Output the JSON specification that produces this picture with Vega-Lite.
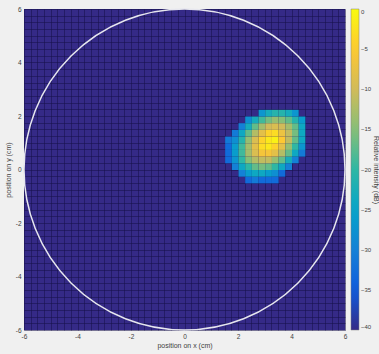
{
  "$schema": "https://vega.github.io/schema/vega-lite/v6.json",
  "width": 321,
  "height": 321,
  "autosize": {"type": "none"},
  "padding": {"left": 24, "top": 9, "right": 34, "bottom": 24},
  "background": "#f0f0f0",
  "config": {
    "view": {"fill": "#352a87", "stroke": null},
    "font": "Liberation Sans",
    "axis": {
      "zindex": 1,
      "grid": true,
      "gridColor": "#15104a",
      "gridOpacity": 0.55,
      "gridWidth": 1,
      "ticks": false,
      "domain": false,
      "labelFontSize": 6.5,
      "labelColor": "#404040",
      "labelFlush": false,
      "labelOverlap": false,
      "labelPadding": 3,
      "titleFontSize": 7,
      "titleFontWeight": "normal",
      "titleColor": "#404040"
    },
    "legend": {
      "gradientLength": 321,
      "gradientThickness": 8,
      "offset": 6,
      "labelFontSize": 6,
      "labelColor": "#404040",
      "labelOffset": 3,
      "titleFontSize": 7,
      "titleFontWeight": "normal",
      "titleColor": "#404040",
      "gradientStrokeColor": "#808080",
      "gradientStrokeWidth": 0.5
    }
  },
  "layer": [
    {
      "data": {
        "values": [
          {"x": 2.25, "y": -0.5, "v": -33}, {"x": 2.5, "y": -0.5, "v": -31}, {"x": 2.75, "y": -0.5, "v": -33}, {"x": 3.0, "y": -0.5, "v": -33}, {"x": 3.25, "y": -0.5, "v": -33},
          {"x": 2.0, "y": -0.25, "v": -30}, {"x": 2.25, "y": -0.25, "v": -26}, {"x": 2.5, "y": -0.25, "v": -24}, {"x": 2.75, "y": -0.25, "v": -24}, {"x": 3.0, "y": -0.25, "v": -26}, {"x": 3.25, "y": -0.25, "v": -28}, {"x": 3.5, "y": -0.25, "v": -33},
          {"x": 1.75, "y": 0, "v": -30}, {"x": 2.0, "y": 0, "v": -24}, {"x": 2.25, "y": 0, "v": -20}, {"x": 2.5, "y": 0, "v": -17}, {"x": 2.75, "y": 0, "v": -16}, {"x": 3.0, "y": 0, "v": -17}, {"x": 3.25, "y": 0, "v": -20}, {"x": 3.5, "y": 0, "v": -24}, {"x": 3.75, "y": 0, "v": -30},
          {"x": 1.5, "y": 0.25, "v": -33}, {"x": 1.75, "y": 0.25, "v": -27}, {"x": 2.0, "y": 0.25, "v": -20}, {"x": 2.25, "y": 0.25, "v": -15}, {"x": 2.5, "y": 0.25, "v": -12}, {"x": 2.75, "y": 0.25, "v": -11}, {"x": 3.0, "y": 0.25, "v": -11}, {"x": 3.25, "y": 0.25, "v": -14}, {"x": 3.5, "y": 0.25, "v": -17}, {"x": 3.75, "y": 0.25, "v": -23}, {"x": 4.0, "y": 0.25, "v": -30},
          {"x": 1.5, "y": 0.5, "v": -33}, {"x": 1.75, "y": 0.5, "v": -26}, {"x": 2.0, "y": 0.5, "v": -19}, {"x": 2.25, "y": 0.5, "v": -13}, {"x": 2.5, "y": 0.5, "v": -9}, {"x": 2.75, "y": 0.5, "v": -6}, {"x": 3.0, "y": 0.5, "v": -6}, {"x": 3.25, "y": 0.5, "v": -8}, {"x": 3.5, "y": 0.5, "v": -12}, {"x": 3.75, "y": 0.5, "v": -17}, {"x": 4.0, "y": 0.5, "v": -24}, {"x": 4.25, "y": 0.5, "v": -31},
          {"x": 1.5, "y": 0.75, "v": -33}, {"x": 1.75, "y": 0.75, "v": -26}, {"x": 2.0, "y": 0.75, "v": -19}, {"x": 2.25, "y": 0.75, "v": -13}, {"x": 2.5, "y": 0.75, "v": -8}, {"x": 2.75, "y": 0.75, "v": -3}, {"x": 3.0, "y": 0.75, "v": -2}, {"x": 3.25, "y": 0.75, "v": -4}, {"x": 3.5, "y": 0.75, "v": -8}, {"x": 3.75, "y": 0.75, "v": -14}, {"x": 4.0, "y": 0.75, "v": -20}, {"x": 4.25, "y": 0.75, "v": -27},
          {"x": 1.5, "y": 1.0, "v": -31}, {"x": 1.75, "y": 1.0, "v": -28}, {"x": 2.0, "y": 1.0, "v": -21}, {"x": 2.25, "y": 1.0, "v": -14}, {"x": 2.5, "y": 1.0, "v": -9}, {"x": 2.75, "y": 1.0, "v": -4}, {"x": 3.0, "y": 1.0, "v": -2}, {"x": 3.25, "y": 1.0, "v": -1}, {"x": 3.5, "y": 1.0, "v": -5}, {"x": 3.75, "y": 1.0, "v": -11}, {"x": 4.0, "y": 1.0, "v": -17}, {"x": 4.25, "y": 1.0, "v": -24},
          {"x": 1.75, "y": 1.25, "v": -31}, {"x": 2.0, "y": 1.25, "v": -24}, {"x": 2.25, "y": 1.25, "v": -17}, {"x": 2.5, "y": 1.25, "v": -12}, {"x": 2.75, "y": 1.25, "v": -8}, {"x": 3.0, "y": 1.25, "v": -4}, {"x": 3.25, "y": 1.25, "v": -3}, {"x": 3.5, "y": 1.25, "v": -7}, {"x": 3.75, "y": 1.25, "v": -11}, {"x": 4.0, "y": 1.25, "v": -16}, {"x": 4.25, "y": 1.25, "v": -24},
          {"x": 2.0, "y": 1.5, "v": -30}, {"x": 2.25, "y": 1.5, "v": -23}, {"x": 2.5, "y": 1.5, "v": -17}, {"x": 2.75, "y": 1.5, "v": -13}, {"x": 3.0, "y": 1.5, "v": -10}, {"x": 3.25, "y": 1.5, "v": -9}, {"x": 3.5, "y": 1.5, "v": -10}, {"x": 3.75, "y": 1.5, "v": -13}, {"x": 4.0, "y": 1.5, "v": -17}, {"x": 4.25, "y": 1.5, "v": -24},
          {"x": 2.25, "y": 1.75, "v": -28}, {"x": 2.5, "y": 1.75, "v": -23}, {"x": 2.75, "y": 1.75, "v": -19}, {"x": 3.0, "y": 1.75, "v": -16}, {"x": 3.25, "y": 1.75, "v": -14}, {"x": 3.5, "y": 1.75, "v": -15}, {"x": 3.75, "y": 1.75, "v": -17}, {"x": 4.0, "y": 1.75, "v": -21}, {"x": 4.25, "y": 1.75, "v": -26},
          {"x": 2.75, "y": 2.0, "v": -27}, {"x": 3.0, "y": 2.0, "v": -23}, {"x": 3.25, "y": 2.0, "v": -21}, {"x": 3.5, "y": 2.0, "v": -21}, {"x": 3.75, "y": 2.0, "v": -23}, {"x": 4.0, "y": 2.0, "v": -27}
        ]
      },
      "mark": {"type": "rect"},
      "encoding": {
        "x": {
          "field": "x",
          "type": "quantitative",
          "bin": {"binned": true, "step": 0.25},
          "scale": {"domain": [-6, 6], "nice": false, "zero": false},
          "axis": {
            "title": "position on x (cm)",
            "values": [-6,-5.875,-5.75,-5.625,-5.5,-5.375,-5.25,-5.125,-5,-4.875,-4.75,-4.625,-4.5,-4.375,-4.25,-4.125,-4,-3.875,-3.75,-3.625,-3.5,-3.375,-3.25,-3.125,-3,-2.875,-2.75,-2.625,-2.5,-2.375,-2.25,-2.125,-2,-1.875,-1.75,-1.625,-1.5,-1.375,-1.25,-1.125,-1,-0.875,-0.75,-0.625,-0.5,-0.375,-0.25,-0.125,0,0.125,0.25,0.375,0.5,0.625,0.75,0.875,1,1.125,1.25,1.375,1.5,1.625,1.75,1.875,2,2.125,2.25,2.375,2.5,2.625,2.75,2.875,3,3.125,3.25,3.375,3.5,3.625,3.75,3.875,4,4.125,4.25,4.375,4.5,4.625,4.75,4.875,5,5.125,5.25,5.375,5.5,5.625,5.75,5.875,6],
            "labelExpr": "datum.value % 2 == 0 ? toString(datum.value) : ''",
            "titlePadding": 2
          }
        },
        "y": {
          "field": "y",
          "type": "quantitative",
          "bin": {"binned": true, "step": 0.25},
          "scale": {"domain": [-6, 6], "nice": false, "zero": false},
          "axis": {
            "title": "position on y (cm)",
            "values": [-6,-5.875,-5.75,-5.625,-5.5,-5.375,-5.25,-5.125,-5,-4.875,-4.75,-4.625,-4.5,-4.375,-4.25,-4.125,-4,-3.875,-3.75,-3.625,-3.5,-3.375,-3.25,-3.125,-3,-2.875,-2.75,-2.625,-2.5,-2.375,-2.25,-2.125,-2,-1.875,-1.75,-1.625,-1.5,-1.375,-1.25,-1.125,-1,-0.875,-0.75,-0.625,-0.5,-0.375,-0.25,-0.125,0,0.125,0.25,0.375,0.5,0.625,0.75,0.875,1,1.125,1.25,1.375,1.5,1.625,1.75,1.875,2,2.125,2.25,2.375,2.5,2.625,2.75,2.875,3,3.125,3.25,3.375,3.5,3.625,3.75,3.875,4,4.125,4.25,4.375,4.5,4.625,4.75,4.875,5,5.125,5.25,5.375,5.5,5.625,5.75,5.875,6],
            "labelExpr": "datum.value % 2 == 0 ? toString(datum.value) : ''",
            "titlePadding": 4
          }
        },
        "color": {
          "field": "v",
          "type": "quantitative",
          "scale": {
            "domain": [-40, 0],
            "range": ["#352a87", "#0f5cdd", "#1481d6", "#06a4ca", "#2eb7a4", "#87bf77", "#d1bb59", "#fec832", "#f9fb0e"],
            "interpolate": "rgb",
            "clamp": true
          },
          "legend": {
            "title": "Relative intensity (dB)",
            "values": [0, -5, -10, -15, -20, -25, -30, -35, -40],
            "titleOrient": "right",
            "titleAngle": 270,
            "titleAnchor": "middle",
            "titleBaseline": "bottom",
            "titlePadding": 2
          }
        }
      }
    },
    {
      "data": {"values": [{"x": 0, "y": 0}]},
      "mark": {"type": "point", "shape": "circle", "size": 103041, "filled": false, "stroke": "#e6e6ee", "strokeWidth": 1.5, "opacity": 1},
      "encoding": {
        "x": {"field": "x", "type": "quantitative"},
        "y": {"field": "y", "type": "quantitative"}
      }
    }
  ]
}
